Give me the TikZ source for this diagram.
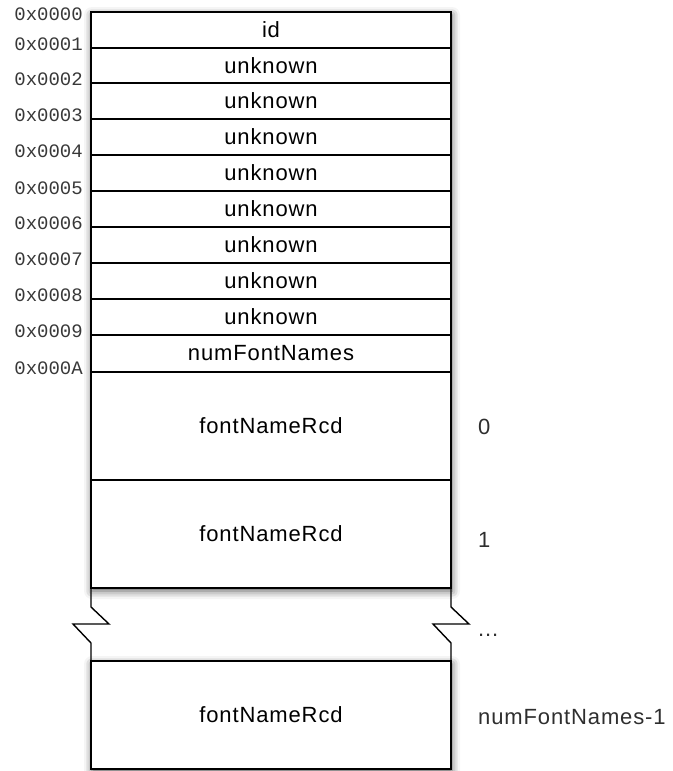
\documentclass[tikz,border=0pt]{standalone}
\usepackage{fontspec}
\setmainfont{Liberation Sans}
\newfontfamily\addrfont{Liberation Mono}
\usetikzlibrary{shadows.blur}
\begin{document}
\begin{tikzpicture}[x=1pt,y=-1pt,
  rowbox/.style={draw=black, line width=1.4pt, fill=white, minimum width=360pt,
    inner sep=0pt, outer sep=0pt, anchor=north west, font=\fontsize{22}{25}\selectfont\addfontfeature{LetterSpace=4}},
  addr/.style={anchor=east, inner sep=0pt, font=\addrfont\fontsize{19}{20}\selectfont, text=black!78},
  idx/.style={anchor=west, inner sep=0pt, font=\fontsize{22}{25}\selectfont\addfontfeature{LetterSpace=4}, text=black!82},
  brk/.style={draw=black, line width=1.4pt, line join=miter},
  shad/.style={blur shadow={shadow xshift=1pt, shadow yshift=-3pt, shadow blur radius=8pt, shadow opacity=65}}]
\useasboundingbox (0,0) rectangle (672,771);
% shadows
\fill[white, shad] (91,12) rectangle (451,588);
\fill[white, shad] (91,661) rectangle (451,769);
% rows
\node[rowbox, minimum height=36pt] (r0) at (91,12) {id};
\node[rowbox, minimum height=35pt] (r1) at (r0.south west) {unknown};
\node[rowbox, minimum height=36pt] (r2) at (r1.south west) {unknown};
\node[rowbox, minimum height=36pt] (r3) at (r2.south west) {unknown};
\node[rowbox, minimum height=36pt] (r4) at (r3.south west) {unknown};
\node[rowbox, minimum height=36pt] (r5) at (r4.south west) {unknown};
\node[rowbox, minimum height=36pt] (r6) at (r5.south west) {unknown};
\node[rowbox, minimum height=36pt] (r7) at (r6.south west) {unknown};
\node[rowbox, minimum height=36pt] (r8) at (r7.south west) {unknown};
\node[rowbox, minimum height=37pt] (r9) at (r8.south west) {numFontNames};
\node[rowbox, minimum height=108pt] (r10) at (r9.south west) {fontNameRcd};
\node[rowbox, minimum height=108pt] (r11) at (r10.south west) {fontNameRcd};
\node[rowbox, minimum height=108pt] (b0) at (91,661) {fontNameRcd};
% break
\draw[brk] (r11.south west) -- ++(0,19) -- ++(18,17) -- ++(-36,0) -- ++(18,19) -- (b0.north west);
\draw[brk] (r11.south east) -- ++(0,19) -- ++(18,17) -- ++(-36,0) -- ++(18,19) -- (b0.north east);
% addresses
\node[addr] (a0) at (83,14) {0x0000};
\node[addr] (a1) at (83,44) {0x0001};
\node[addr] (a2) at (83,79) {0x0002};
\node[addr] (a3) at (83,115) {0x0003};
\node[addr] (a4) at (83,151) {0x0004};
\node[addr] (a5) at (83,188) {0x0005};
\node[addr] (a6) at (83,223) {0x0006};
\node[addr] (a7) at (83,259) {0x0007};
\node[addr] (a8) at (83,295) {0x0008};
\node[addr] (a9) at (83,331) {0x0009};
\node[addr] (aA) at (83,368) {0x000A};
% indices
\node[idx] (i0) at (478,427) {0};
\node[idx] (i1) at (478,540) {1};
\node[idx] (idots) at (478,635) {...};
\node[idx] (ilast) at (478,717) {numFontNames-1};
\end{tikzpicture}
\end{document}
